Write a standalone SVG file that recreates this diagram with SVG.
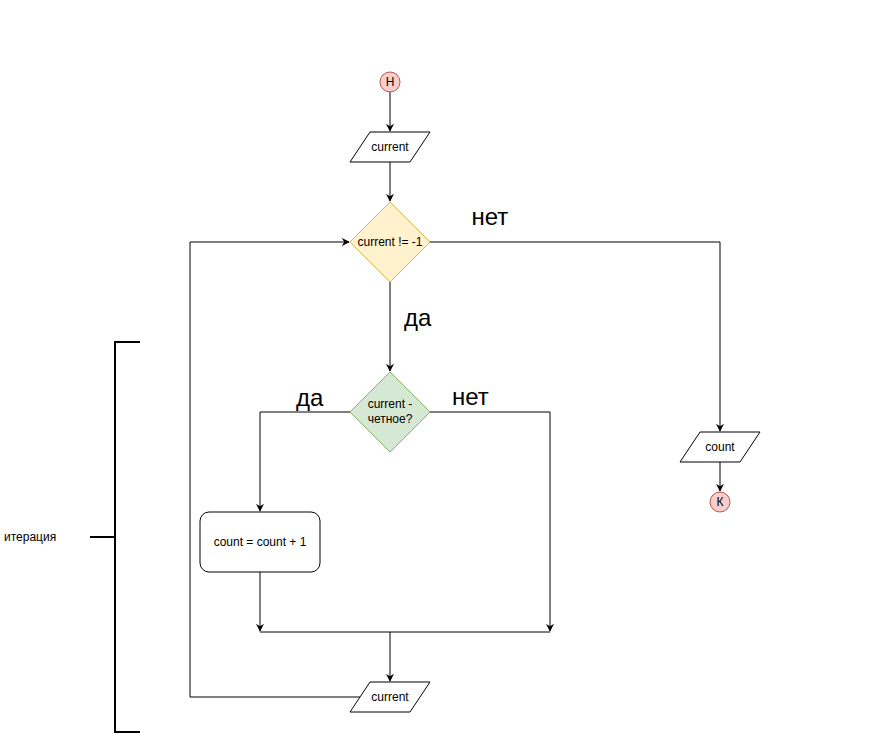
<svg xmlns="http://www.w3.org/2000/svg" width="878" height="734" viewBox="0 0 878 734">
<defs>
<style>
.edge{fill:none;stroke:#000;stroke-width:1}
.io{fill:#fff;stroke:#000;stroke-width:1}
.t{font-family:"Liberation Sans",Arial,sans-serif;font-size:12px;fill:#000;text-anchor:middle;dominant-baseline:central}
.big{font-family:"Liberation Sans",Arial,sans-serif;font-size:24px;fill:#000}
.term{fill:#f8cecc;stroke:#b85450;stroke-width:1}
</style>
<marker id="arr" viewBox="0 0 10 10" refX="9" refY="5" markerWidth="8" markerHeight="8" markerUnits="userSpaceOnUse" orient="auto">
<path d="M0,0 L10,5 L0,10 L3,5 Z" fill="#000"/>
</marker>
</defs>
<rect width="878" height="734" fill="#fff"/>
<g id="connectors">
<path class="edge" d="M390,92 V131" marker-end="url(#arr)"/>
<path class="edge" d="M390,162 V201" marker-end="url(#arr)"/>
<path class="edge" d="M430,242 H720 V431" marker-end="url(#arr)"/>
<path class="edge" d="M720,462 V491" marker-end="url(#arr)"/>
<path class="edge" d="M390,282 V371" marker-end="url(#arr)"/>
<path class="edge" d="M350,412 H260 V511" marker-end="url(#arr)"/>
<path class="edge" d="M430,412 H550 V631" marker-end="url(#arr)"/>
<path class="edge" d="M260,572 V631" marker-end="url(#arr)"/>
<path class="edge" d="M260,632 H550"/>
<path class="edge" d="M390,632 V681" marker-end="url(#arr)"/>
<path class="edge" d="M360,697 H190 V242 H349" marker-end="url(#arr)"/>
<text class="big" x="471.5" y="224.5">нет</text>
<text class="big" x="404" y="326">да</text>
<text class="big" x="296" y="406">да</text>
<text class="big" x="452" y="405">нет</text>
</g>
<g id="start">
<circle class="term" cx="390" cy="82" r="10"/>
<text class="t" x="390" y="82">Н</text>
</g>
<g id="input-current">
<path class="io" d="M370,132 H430 L410,162 H350 Z"/>
<text class="t" x="390" y="147">current</text>
</g>
<g id="cond-loop">
<path d="M390,202 L430,242 L390,282 L350,242 Z" fill="#fff2cc" stroke="#d6b656"/>
<text class="t" x="390" y="242">current != -1</text>
</g>
<g id="cond-even">
<path d="M390,372 L430,412 L390,452 L350,412 Z" fill="#d5e8d4" stroke="#82b366"/>
<text class="t" x="390" y="404">current -</text>
<text class="t" x="390" y="419">четное?</text>
</g>
<g id="increment">
<rect x="200" y="512" width="120" height="60" rx="9" ry="9" fill="#fff" stroke="#000"/>
<text class="t" x="260" y="542">count = count + 1</text>
</g>
<g id="input-current-2">
<path class="io" d="M370,682 H430 L410,712 H350 Z"/>
<text class="t" x="390" y="697">current</text>
</g>
<g id="output-count">
<path class="io" d="M700,432 H760 L740,462 H680 Z"/>
<text class="t" x="720" y="447">count</text>
</g>
<g id="end">
<circle class="term" cx="720" cy="502" r="10"/>
<text class="t" x="720" y="502">К</text>
</g>
<g id="iteration-bracket">
<path d="M140,342 H115 V732 H140 M90,537 H115" fill="none" stroke="#000" stroke-width="2"/>
<text class="t" x="4" y="537" style="text-anchor:start">итерация</text>
</g>
</svg>
